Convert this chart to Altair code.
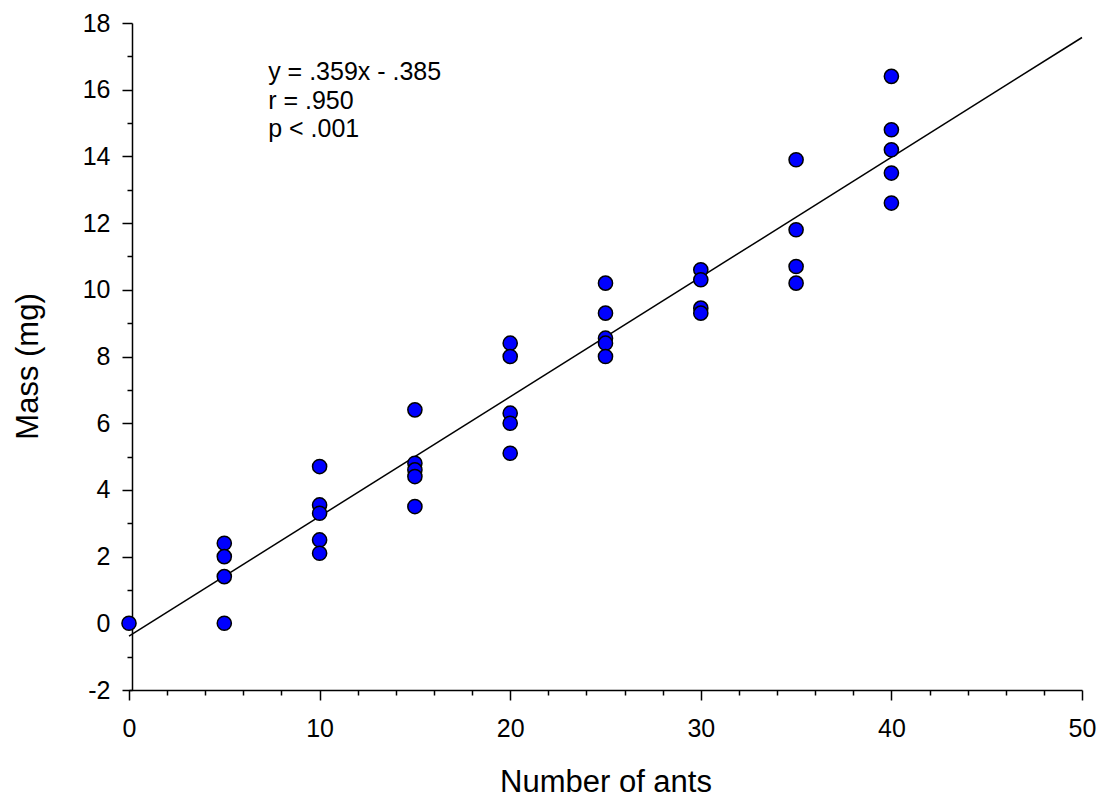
import altair as alt
import pandas as pd

# ---- data ----
ant_counts = [0, 5, 10, 15, 20, 25, 30, 35, 40]
mass_at_0 = [0.0]
mass_at_5 = [2.4, 2.0, 1.4, 0.0]
mass_at_10 = [4.7, 3.55, 3.3, 2.5, 2.1]
mass_at_15 = [6.4, 4.8, 4.6, 4.4, 3.5]
mass_at_20 = [8.4, 8.0, 6.3, 6.0, 5.1]
mass_at_25 = [10.2, 9.3, 8.55, 8.4, 8.0]
mass_at_30 = [10.6, 10.3, 9.45, 9.3]
mass_at_35 = [13.9, 11.8, 10.7, 10.2]
mass_at_40 = [16.4, 14.8, 14.2, 13.5, 12.6]
mass_groups = [mass_at_0, mass_at_5, mass_at_10, mass_at_15, mass_at_20,
               mass_at_25, mass_at_30, mass_at_35, mass_at_40]

# fitted line  y = .359x - .385, drawn from x = 0 to x = 50
fit_x = [0, 50]
fit_y = [-0.385, 17.565]

note_lines = ["y = .359x - .385", "r = .950", "p < .001"]
note_x = [7.3, 7.3, 7.3]
note_y = [16.28, 15.43, 14.58]

x_ticks = list(range(0, 51, 2))
y_ticks = list(range(-2, 19, 1))

# ---- tables ----
rows = []
for n, masses in zip(ant_counts, mass_groups):
    for m in masses:
        rows.append({"ants": n, "mass": m})
points_df = pd.DataFrame(rows)
fit_df = pd.DataFrame({"ants": fit_x, "mass": fit_y})
note_df = pd.DataFrame({"ants": note_x, "mass": note_y, "txt": note_lines})

FONT = "Liberation Sans"

x_scale = alt.Scale(domain=[0, 50], nice=False, zero=False)
y_scale = alt.Scale(domain=[-2, 18], nice=False, zero=False)

x_axis = alt.Axis(
    values=x_ticks,
    tickCount=200,
    labelExpr="datum.value % 10 === 0 ? '' + datum.value : ''",
    tickSize={"condition": {"test": "datum.value % 10 === 0", "value": 10}, "value": 5},
    grid=False,
    labelFlush=False,
    labelOverlap=False,
    labelFont=FONT,
    labelFontSize=25,
    labelColor="black",
    labelPadding=16,
    domainColor="black",
    domainWidth=1.5,
    tickColor="black",
    tickWidth=1.5,
    title="Number of ants",
    titleFont=FONT,
    titleFontSize=31,
    titleFontWeight="normal",
    titleColor="black",
    titleY=101,
    titleBaseline="alphabetic",
    zindex=0,
)

y_axis = alt.Axis(
    values=y_ticks,
    tickCount=200,
    labelExpr="datum.value % 2 === 0 ? '' + datum.value : ''",
    tickSize={"condition": {"test": "datum.value % 2 === 0", "value": 10}, "value": 5},
    grid=False,
    labelFlush=False,
    labelOverlap=False,
    labelFont=FONT,
    labelFontSize=25,
    labelColor="black",
    labelPadding=12,
    domainColor="black",
    domainWidth=1.5,
    tickColor="black",
    tickWidth=1.5,
    offset=-3,
    title="Mass (mg)",
    titleFont=FONT,
    titleFontSize=31,
    titleFontWeight="normal",
    titleColor="black",
    titleAngle=270,
    titleX=-95,
    titleY=343,
    titleBaseline="alphabetic",
    titleAlign="center",
    zindex=0,
)

line = alt.Chart(fit_df).mark_line(color="black", strokeWidth=1.5).encode(
    x=alt.X("ants:Q", scale=x_scale, axis=x_axis),
    y=alt.Y("mass:Q", scale=y_scale, axis=y_axis),
)

pts = alt.Chart(points_df).mark_point(
    shape="circle", filled=True, fill="#0000FF", stroke="black",
    strokeWidth=1.5, size=200, opacity=1,
).encode(
    x=alt.X("ants:Q", scale=x_scale),
    y=alt.Y("mass:Q", scale=y_scale),
)

notes = alt.Chart(note_df).mark_text(
    align="left", baseline="alphabetic", font=FONT, fontSize=25, color="black"
).encode(
    x=alt.X("ants:Q", scale=x_scale),
    y=alt.Y("mass:Q", scale=y_scale),
    text="txt:N",
)

chart = alt.layer(line, pts, notes).properties(
    width=953,
    height=667,
    autosize=alt.AutoSizeParams(type="none"),
    padding={"left": 129, "top": 23, "right": 20, "bottom": 112},
    background="white",
).configure_view(stroke=None)

chart.save("out.html", embed_options={"renderer": "svg", "actions": False})
